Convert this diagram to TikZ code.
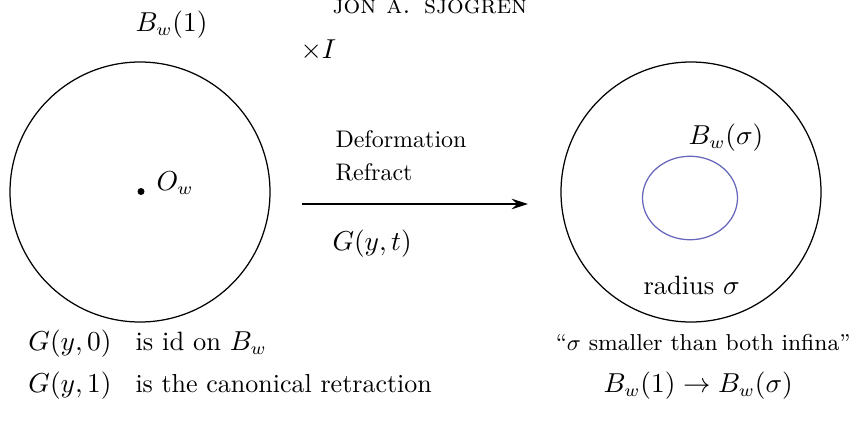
\documentclass[tikz,border=0pt]{standalone}
\usepackage{amsmath}
\usetikzlibrary{shapes.geometric,arrows.meta}
\definecolor{innerblue}{RGB}{102,102,187}
\begin{document}
\begin{tikzpicture}[x=0.4pt,y=-0.4pt,
  txt/.style={font=\fontsize{10.4}{12}\selectfont, inner sep=0},
  mth/.style={font=\fontsize{10.6}{12}\selectfont, inner sep=0},
  ball/.style={draw, circle, line width=0.5pt, minimum size=104pt, inner sep=0},
  arr/.style={line width=0.5pt, -{Stealth[length=6.5pt,width=4.2pt]}}]
\useasboundingbox (0,0) rectangle (854,427);
% circles
\node[ball] (big) at (140,192) {};
\node[ball] (bigr) at (691,192) {};
\node[draw=innerblue, line width=0.5pt, ellipse, minimum width=38pt, minimum height=33.4pt, inner sep=0] (small) at (690,198) {};
% centre
\node[fill, circle, inner sep=0, minimum size=2.8pt] (O) at (141,191.5) {};
\node[mth, anchor=base west] (Olab) at (156,190) {$O_w$};
% arrow
\coordinate (a1) at (302,204);
\coordinate (a2) at (528,204);
\draw[arr] (a1) -- (a2);
% labels
\node[txt, font=\fontsize{10.5}{12}\selectfont, anchor=base west] (hdr) at (332,13) {\textsc{jon a. sjogren}};
\node[mth, anchor=base west] (B1) at (135,31.5) {$B_w(1)$};
\node[mth, anchor=base west] (xI) at (300,58) {$\times I$};
\node[txt, font=\fontsize{9.6}{11}\selectfont, anchor=base west] (def) at (335,147) {Deformation};
\node[txt, font=\fontsize{9.6}{11}\selectfont, anchor=base west] (ref) at (335,180) {Refract};
\node[mth, anchor=base west] (Gyt) at (332,250) {$G(y,t)$};
\node[mth, anchor=base west] (Bs) at (688,144) {$B_w(\sigma)$};
\node[mth, anchor=base west] (rad) at (643,294) {radius $\sigma$};
\node[mth, anchor=base west] (G0) at (28,350) {$G(y,0)$};
\node[mth, anchor=base west] (G0t) at (135,350) {is id on $B_w$};
\node[mth, anchor=base west] (G1) at (28,392) {$G(y,1)$};
\node[txt, anchor=base west] (G1t) at (135,392) {is the canonical retraction};
\node[txt, font=\fontsize{9.2}{11}\selectfont, anchor=base east] (q) at (851,350) {``$\sigma$ smaller than both infina''};
\node[mth, anchor=base west] (map) at (603,392) {$B_w(1)\to B_w(\sigma)$};
\end{tikzpicture}
\end{document}
